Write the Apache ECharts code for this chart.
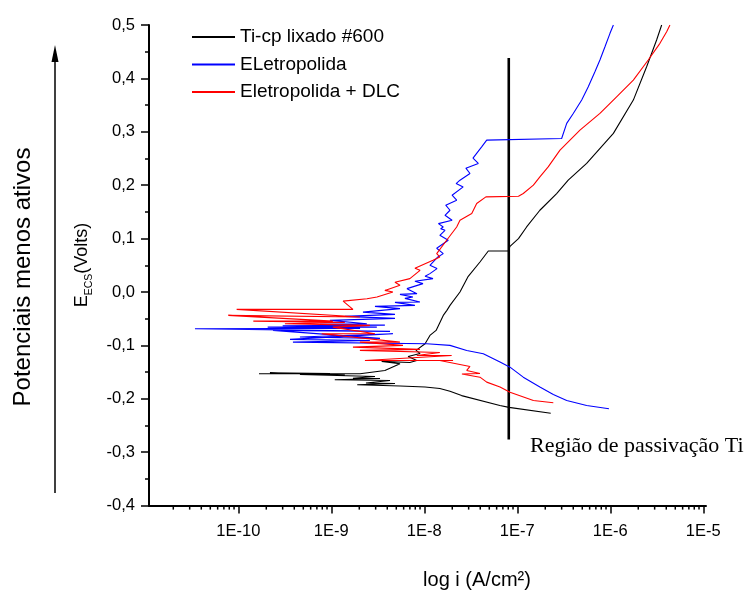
<!DOCTYPE html>
<html>
<head>
<meta charset="utf-8">
<script src="https://cdn.jsdelivr.net/npm/echarts@6/dist/echarts.min.js"></script>
<style>
  html, body { margin: 0; padding: 0; background: #fff; }
  #chart { width: 748px; height: 593px; }
</style>
</head>
<body>
<div id="chart"></div>
<script>
// Potentiodynamic polarization curves: current density i (A/cm²) against potential E (V vs ECS)
const seriesNames = ['Ti-cp lixado #600', 'ELetropolida', 'Eletropolida + DLC'];
const seriesColors = ['#000000', '#0000ff', '#ff0000'];

const tiCurrent = [2.29e-7, 8.15e-8, 6.5e-8, 2.52e-8, 1.89e-8, 1.47e-8, 1.02e-8, 5.5e-9, 1.9e-9, 4.84e-9,
  2.36e-9, 4.28e-9, 1.09e-9, 3.34e-9, 1.71e-9, 2.95e-9, 4.6e-10, 1.4e-9, 2.19e-10, 9.66e-10,
  1.67e-10, 2.04e-9, 3.77e-9, 5.48e-9, 3.48e-9, 7.0e-9, 8.3e-9, 6.7e-9, 9.0e-9, 8.15e-9,
  1.02e-8, 1.15e-8, 1.34e-8, 1.6e-8, 1.75e-8, 1.89e-8, 2.42e-8, 2.97e-8, 3.97e-8, 4.88e-8,
  8.0e-8, 8.35e-8, 1.03e-7, 1.26e-7, 1.75e-7, 2.65e-7, 3.53e-7, 5.57e-7, 1.08e-6, 1.77e-6,
  2.46e-6, 3.15e-6, 3.57e-6];
const tiPotential = [-0.227, -0.216, -0.2125, -0.194, -0.1857, -0.1807, -0.178, -0.176, -0.1737, -0.1713,
  -0.1704, -0.1657, -0.1644, -0.162, -0.1614, -0.1582, -0.1544, -0.1553, -0.1512, -0.1525,
  -0.1531, -0.1531, -0.1469, -0.1343, -0.130, -0.132, -0.1282, -0.1207, -0.115, -0.1094,
  -0.0969, -0.0813, -0.0719, -0.0438, -0.0344, -0.025, 0.0, 0.0294, 0.0562, 0.0768,
  0.0768, 0.0856, 0.1, 0.1218, 0.1531, 0.1844, 0.2094, 0.2407, 0.297, 0.3594,
  0.4218, 0.4719, 0.5];

const eletroCurrent = [9.68e-7, 5.57e-7, 3.4e-7, 2.44e-7, 1.75e-7, 1.16e-7, 8.35e-8, 6.52e-8, 4.31e-8, 2.86e-8,
  1.89e-8, 1.06e-8, 3.87e-10, 2.6e-9, 3.6e-10, 4.6e-9, 4.6e-10, 3.34e-9, 2.36e-10, 4.28e-9,
  3.42e-11, 2.04e-9, 2.07e-10, 3.09e-9, 3.0e-10, 3.77e-9, 7.55e-10, 2.41e-9, 9.66e-10, 4.84e-9,
  1.4e-9, 4.84e-9, 2.19e-9, 5.48e-9, 2.95e-9, 7.93e-9, 4.84e-9, 8.98e-9, 6.19e-9, 7.55e-9,
  5.48e-9, 8.34e-9, 6.52e-9, 9.68e-9, 7.93e-9, 1.24e-8, 1.02e-8, 1.15e-8, 1.37e-8, 1.15e-8,
  1.4e-8, 1.6e-8, 1.36e-8, 1.81e-8, 1.47e-8, 1.67e-8, 1.5e-8, 1.6e-8, 1.42e-8, 1.99e-8,
  1.67e-8, 1.89e-8, 1.7e-8, 2.23e-8, 1.99e-8, 2.62e-8, 2.2e-8, 2.42e-8, 3.1e-8, 2.8e-8,
  3.81e-8, 3.34e-8, 4.14e-8, 4.69e-8, 3.0e-7, 3.4e-7, 4.0e-7, 4.93e-7, 5.8e-7, 6.84e-7,
  7.74e-7, 8.77e-7, 9.93e-7, 1.08e-6];
const eletroPotential = [-0.2187, -0.2125, -0.2031, -0.192, -0.178, -0.1595, -0.1407, -0.1313, -0.1156, -0.1094,
  -0.100, -0.0969, -0.0938, -0.0907, -0.0888, -0.0781, -0.0844, -0.0869, -0.0719, -0.0738,
  -0.0688, -0.0682, -0.0657, -0.0657, -0.0632, -0.0620, -0.0607, -0.0594, -0.0532, -0.0494,
  -0.0457, -0.0419, -0.0376, -0.0312, -0.0269, -0.025, -0.0194, -0.0188, -0.0119, -0.0094,
  -0.0044, -0.0031, 0.0063, 0.0157, 0.02, 0.025, 0.0294, 0.0344, 0.0438, 0.05,
  0.0656, 0.0719, 0.0819, 0.0969, 0.1062, 0.1156, 0.1187, 0.1218, 0.1281, 0.1344,
  0.1437, 0.1531, 0.1625, 0.1719, 0.1812, 0.1968, 0.2031, 0.2094, 0.2219, 0.2319,
  0.2407, 0.2506, 0.2718, 0.2844, 0.2875, 0.3157, 0.3344, 0.3594, 0.3843, 0.4124,
  0.4344, 0.4593, 0.4844, 0.5];

const dlcCurrent = [2.44e-7, 1.49e-7, 8.35e-8, 6.52e-8, 4.69e-8, 3.97e-8, 2.54e-8, 3.97e-8, 2.86e-8, 3.1e-8,
  2.97e-8, 1.47e-8, 2.04e-8, 2.3e-9, 1.97e-8, 8.3e-9, 1.47e-8, 2.03e-9, 8.98e-9, 1.71e-9,
  5.9e-9, 2.03e-9, 5.47e-9, 7.88e-10, 2.95e-9, 1.04e-9, 2.6e-9, 3.17e-10, 1.4e-9, 1.45e-10,
  1.04e-9, 7.8e-11, 2.03e-9, 9.6e-11, 1.71e-9, 1.34e-9, 2.42e-9, 3.1e-9, 4.6e-9, 3.77e-9,
  5.48e-9, 4.84e-9, 7.0e-9, 9.0e-9, 7.94e-9, 1.24e-8, 1.47e-8, 1.36e-8, 1.74e-8, 2.23e-8,
  2.42e-8, 3.24e-8, 3.66e-8, 4.6e-8, 1.03e-7, 1.16e-7, 1.49e-7, 1.75e-7, 2.15e-7, 2.88e-7,
  4.72e-7, 7.74e-7, 1.17e-6, 1.77e-6, 2.56e-6, 3.42e-6, 4.04e-6, 4.38e-6];
const dlcPotential = [-0.2075, -0.2031, -0.1876, -0.178, -0.1688, -0.1595, -0.1535, -0.1525, -0.1469, -0.1394,
  -0.1357, -0.1282, -0.1282, -0.1282, -0.119, -0.119, -0.1132, -0.1094, -0.1075, -0.1032,
  -0.100, -0.0938, -0.0938, -0.0781, -0.0781, -0.0657, -0.0625, -0.0594, -0.0569, -0.0545,
  -0.0545, -0.0438, -0.0469, -0.0325, -0.0325, -0.017, -0.0125, -0.0094, 0.0, 0.003,
  0.0125, 0.0181, 0.025, 0.0406, 0.0444, 0.0594, 0.0656, 0.0719, 0.0969, 0.1218,
  0.1344, 0.1469, 0.1656, 0.1781, 0.1794, 0.1844, 0.2, 0.2156, 0.2343, 0.2656,
  0.3031, 0.3344, 0.3656, 0.3969, 0.4344, 0.4657, 0.4874, 0.5];

// Marker of the Ti passivation region
const passivationCurrent = [8.1e-8, 8.1e-8];
const passivationPotential = [-0.276, 0.438];

// Axis ranges and ticks
const currentMin = 1.096e-11;
const currentMax = 1.07e-5;
const potentialMin = -0.4;
const potentialMax = 0.5;
const potentialStep = 0.1;
const minorMultipliers = [2, 3, 4, 5, 6, 7, 8, 9];
const decadeExponents = [-11, -10, -9, -8, -7, -6];

const FONT = '"Liberation Sans", Arial, sans-serif';

function zip(xs, ys) { return xs.map((x, k) => [x, ys[k]]); }

const minorTickValues = [];
decadeExponents.forEach(e => {
  minorMultipliers.forEach(m => {
    const v = m * Math.pow(10, e);
    if (v > currentMin && v < currentMax) minorTickValues.push(v);
  });
});

const chart = echarts.init(document.getElementById('chart'), null, { renderer: 'canvas' });

function curve(name, color, xs, ys) {
  return {
    name: name, type: 'line', data: zip(xs, ys), showSymbol: false, symbol: 'none',
    lineStyle: { color: color, width: 1.1 }, itemStyle: { color: color },
    animation: false, z: 3
  };
}

chart.setOption({
  animation: false,
  backgroundColor: '#ffffff',
  grid: { left: 149, top: 25, right: 42, bottom: 87.4, containLabel: false },
  legend: {
    data: seriesNames, orient: 'vertical', left: 187, top: 21,
    itemWidth: 43, itemHeight: 2, itemGap: 5.5, icon: 'rect', selectedMode: false,
    textStyle: { fontSize: 19, fontFamily: FONT, color: '#000', lineHeight: 22 }
  },
  xAxis: {
    type: 'log', logBase: 10, min: currentMin, max: currentMax,
    axisLine: { show: true, onZero: false, lineStyle: { color: '#000', width: 2 } },
    axisTick: { show: true, length: 8, lineStyle: { color: '#000', width: 1.5 } },
    axisLabel: {
      showMinLabel: false, showMaxLabel: false, margin: 17,
      fontSize: 16.5, fontFamily: FONT, color: '#000',
      formatter: v => '1E' + Math.round(Math.log10(v))
    },
    splitLine: { show: false }
  },
  yAxis: {
    type: 'value', min: potentialMin, max: potentialMax, interval: potentialStep,
    axisLine: { show: true, lineStyle: { color: '#000', width: 2 } },
    axisTick: { show: true, length: 8, lineStyle: { color: '#000', width: 1.5 } },
    minorTick: { show: true, splitNumber: 2, length: 4, lineStyle: { color: '#000', width: 1.5 } },
    axisLabel: {
      margin: 14, fontSize: 16.5, fontFamily: FONT, color: '#000',
      formatter: v => v.toFixed(1).replace('.', ',')
    },
    splitLine: { show: false }
  },
  series: [
    {
      name: 'passivacao', type: 'line', data: zip(passivationCurrent, passivationPotential),
      symbol: 'none', lineStyle: { color: '#000', width: 2.6 }, z: 2, animation: false, silent: true
    },
    curve(seriesNames[0], seriesColors[0], tiCurrent, tiPotential),
    curve(seriesNames[1], seriesColors[1], eletroCurrent, eletroPotential),
    curve(seriesNames[2], seriesColors[2], dlcCurrent, dlcPotential),
    {
      // minor ticks of the log axis (2..9 within each decade)
      name: 'minorTicks', type: 'custom', clip: false, silent: true, animation: false, z: 5,
      data: minorTickValues.map(v => [v, potentialMin]),
      renderItem: function (params, api) {
        const p = api.coord([api.value(0), api.value(1)]);
        return {
          type: 'line',
          shape: { x1: p[0], y1: p[1], x2: p[0], y2: p[1] + 4 },
          style: { stroke: '#000', lineWidth: 1.5 }
        };
      }
    }
  ],
  graphic: [
    {
      type: 'line', silent: true,
      shape: { x1: 55, y1: 493, x2: 55, y2: 58 },
      style: { stroke: '#000', lineWidth: 1.5 }
    },
    {
      type: 'polygon', silent: true,
      shape: { points: [[55, 45], [51.5, 62], [58.5, 62]] },
      style: { fill: '#000' }
    },
    {
      type: 'text', silent: true, x: 23, y: 277, rotation: Math.PI / 2,
      style: {
        text: 'Potenciais menos ativos', fontSize: 24, fontFamily: FONT, fill: '#000',
        align: 'center', verticalAlign: 'middle'
      }
    },
    {
      type: 'text', silent: true, x: 80, y: 265, rotation: Math.PI / 2,
      style: {
        text: '{e|E}{s|ECS}{e|(Volts)}', fill: '#000', align: 'center', verticalAlign: 'middle',
        rich: {
          e: { fontSize: 18, fontFamily: FONT, fill: '#000', lineHeight: 22, verticalAlign: 'bottom' },
          s: { fontSize: 10.5, fontFamily: FONT, fill: '#000', lineHeight: 22, verticalAlign: 'bottom', padding: [0, 0, -4, 0] }
        }
      }
    },
    {
      type: 'text', silent: true, x: 477, y: 580,
      style: {
        text: 'log i (A/cm²)', fontSize: 20, fontFamily: FONT, fill: '#000',
        align: 'center', verticalAlign: 'middle'
      }
    },
    {
      type: 'text', silent: true, x: 530, y: 446,
      style: {
        text: 'Região de passivação Ti', fontSize: 22,
        fontFamily: '"Liberation Serif", "Times New Roman", serif', fill: '#000',
        align: 'left', verticalAlign: 'middle'
      }
    }
  ]
});
</script>
</body>
</html>
